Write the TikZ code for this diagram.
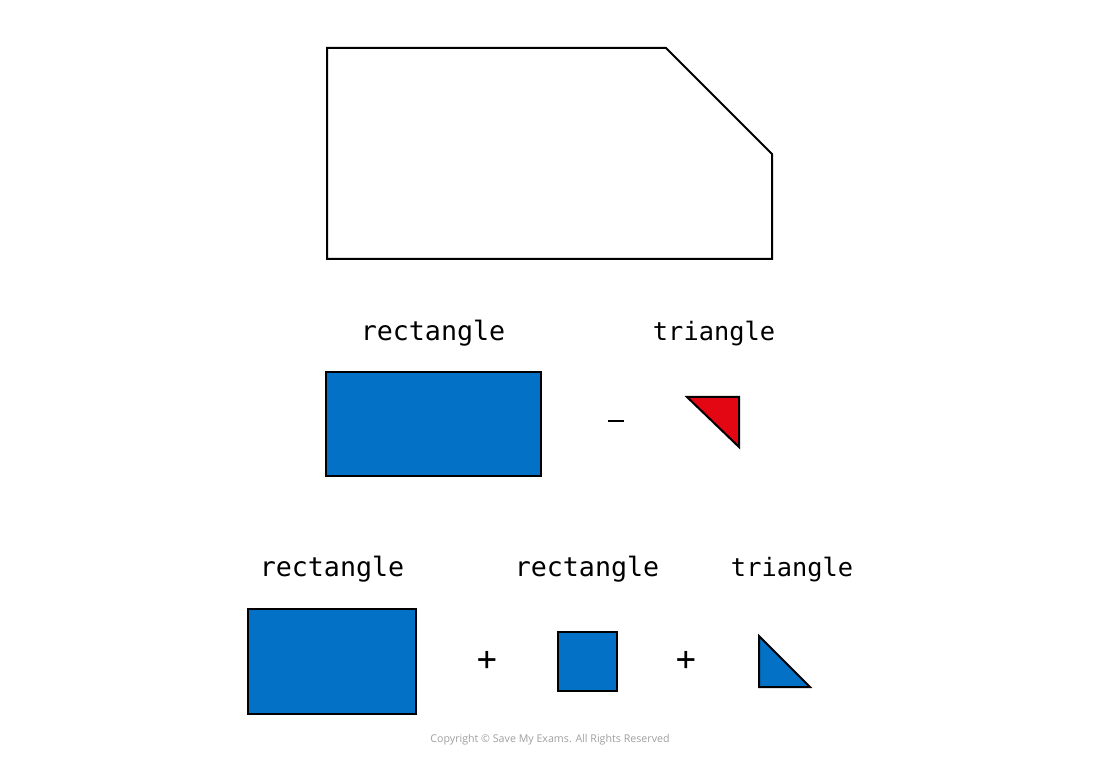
\documentclass[tikz,border=0pt]{standalone}
\usepackage{fontspec}
\newfontfamily\handfont{DejaVu Sans Mono}
\newfontfamily\copyfont{Open Sans}
\definecolor{smblue}{RGB}{3,114,198}
\definecolor{smred}{RGB}{227,6,19}
\definecolor{copygray}{RGB}{160,160,160}
\begin{document}
\begin{tikzpicture}[x=0.75pt,y=-0.75pt,
  outline/.style={draw=black,line width=1.5pt,line join=miter},
  bluefill/.style={outline,fill=smblue},
  redfill/.style={outline,fill=smred},
  lbl/.style={font=\handfont\fontsize{20}{24}\selectfont,inner sep=0pt,anchor=base},
  op/.style={font=\handfont\fontsize{25}{30}\selectfont,inner sep=0pt}
]
\useasboundingbox (0,0) rectangle (1100,766);
\fill[white] (0,0) rectangle (1100,766);

% top compound shape
\draw[outline] (327,48) coordinate (p1) -- (666,48) coordinate (p2) -- (772,154) coordinate (p3) -- (772,259) coordinate (p4) -- (327,259) coordinate (p5) -- cycle;

% middle row
\node[lbl] (l1) at (433,341) {rectangle};
\node[lbl,font=\handfont\fontsize{19}{24}\selectfont] (l2) at (714,341) {triangle};
\draw[bluefill] (326,372) rectangle (541,476);
\draw[line width=1.3pt] (608,421) -- (624,421);
\draw[redfill] (687,397) -- (739,397) -- (739,447) -- cycle;

% bottom row
\node[lbl] (l3) at (332,576) {rectangle};
\node[lbl] (l4) at (587,576) {rectangle};
\node[lbl,font=\handfont\fontsize{19}{24}\selectfont] (l5) at (792,576) {triangle};
\draw[bluefill] (248,609) rectangle (416,714);
\node[op] (plus1) at (487,661) {+};
\draw[bluefill] (558,632) rectangle (617,691);
\node[op] (plus2) at (686,661) {+};
\draw[bluefill] (759,636) -- (759,687) -- (810,687) -- cycle;

% copyright
\node[font=\copyfont\fontsize{8}{10}\selectfont,text=copygray,inner sep=0pt] (copy) at (550,740) {Copyright © Save My Exams. All Rights Reserved};
\end{tikzpicture}
\end{document}
